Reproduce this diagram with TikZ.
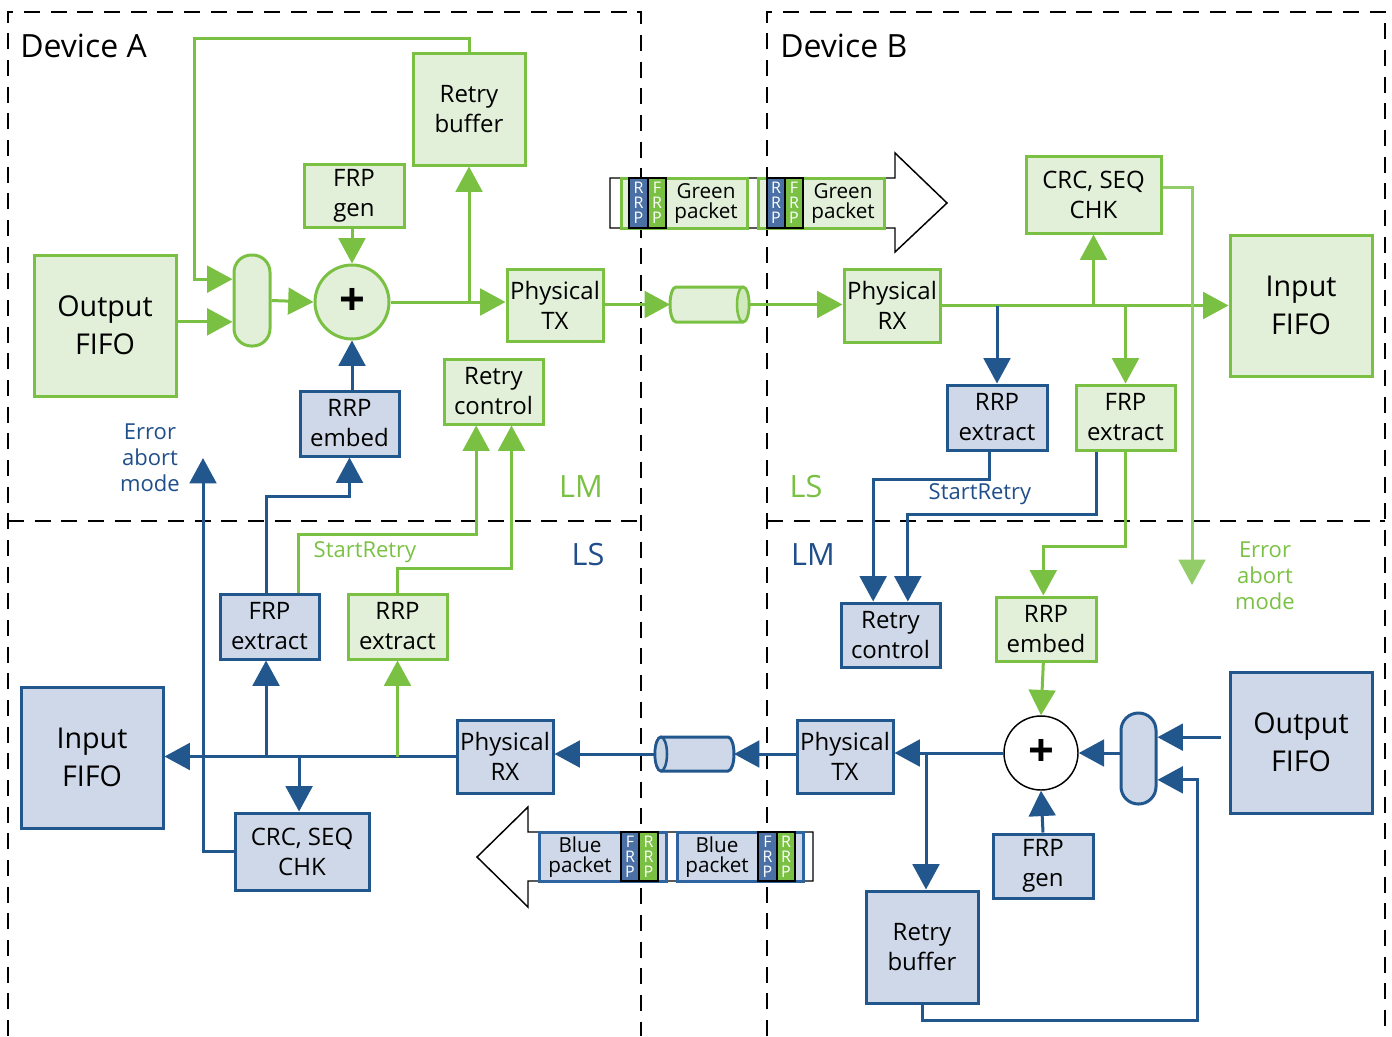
\documentclass[tikz,border=0pt]{standalone}
\usepackage{fontspec}
\setmainfont{Open Sans}
\usetikzlibrary{arrows.meta,calc}
\definecolor{gline}{HTML}{7AC143}
\definecolor{gfill}{HTML}{E2EFD9}
\definecolor{bline}{HTML}{22578E}
\definecolor{bfill}{HTML}{CFD8E8}
\definecolor{btext}{HTML}{1F4E8A}
\definecolor{gtext}{HTML}{7AC143}
\definecolor{lgline}{HTML}{92CD6A}
\definecolor{pblue}{HTML}{4A70A6}
\definecolor{pbord}{HTML}{2E64A0}
\newcommand\boxfont{\fontsize{18}{22.5}\selectfont}
\newcommand\bgfont{\fontsize{21.5}{28.5}\selectfont}
\newcommand\pktfont{\fontsize{15.5}{15}\selectfont}
\newcommand\rpfont{\fontsize{12}{11.3}\selectfont}
\newcommand\lblfont{\fontsize{16.5}{19.5}\selectfont}
\newcommand\devfont{\fontsize{24}{28}\selectfont}
\newcommand\lmfont{\fontsize{23}{28}\selectfont}
\newcommand\plusfont{\fontsize{34}{34}\selectfont\bfseries}
\newcommand\bx[7]{\node[#1, minimum width={(#5-#3)*0.75pt}, minimum height={(#6-#4)*0.75pt}] (#2) at ({(#3+#5)/2},{(#4+#6)/2}) {#7};}
\begin{document}
\begin{tikzpicture}[x=0.75pt,y=-0.75pt,
  box/.style={rectangle, inner sep=0pt, line width=2.25pt, align=center, font=\boxfont},
  gbox/.style={box, draw=gline, fill=gfill},
  bbox/.style={box, draw=bline, fill=bfill},
  big/.style={font=\bgfont},
  conn/.style={line width=2.25pt},
  tipstyle/.style={-{Triangle[length=19pt,width=20pt]}},
  garrow/.style={conn, draw=gline, tipstyle},
  barrow/.style={conn, draw=bline, tipstyle},
  larrow/.style={conn, draw=lgline, tipstyle},
  dl/.style={line width=1.9pt, dash pattern=on 12pt off 8pt},
  col/.style={rectangle, inner sep=0pt, draw=black, line width=1.1pt, text=white, font=\rpfont, align=center},
  pkt/.style={font=\pktfont, align=center, inner sep=0pt},
  lbl/.style={font=\lblfont, align=center, inner sep=0pt},
  hole/.style={rectangle, inner sep=0pt, outer sep=0pt}
]
\useasboundingbox (0,0) rectangle (1392,1036);
% dashed frames
\draw[dl] (8,1036) -- (8,12) -- (641,12) -- (641,1036);
\draw[dl] (767,1036) -- (767,12) -- (1385,12) -- (1385,1036);
\draw[dl] (8,521) -- (641,521);
\draw[dl] (767,521) -- (1385,521);
\node[anchor=west, font=\devfont, inner sep=0pt] (devA) at (20,46) {Device A};
\node[anchor=west, font=\devfont, inner sep=0pt] (devB) at (780,46) {Device B};

% ---------- top (Device A -> Device B), green ----------
\bx{gbox,big}{OFA}{34}{255}{176}{396}{Output\\FIFO}
\bx{gbox,rounded corners=13pt}{muxA}{234}{255}{270}{346}{}
\node[circle, draw=gline, fill=gfill, line width=2.25pt, minimum size=55.5pt, inner sep=0pt, font=\plusfont] (plusA) at (352,302) {+};
\bx{gbox}{FGA}{304}{164}{404}{227}{FRP\\gen}
\bx{bbox}{REA}{300}{391}{399}{456}{RRP\\embed}
\bx{gbox}{RBA}{413}{53}{525}{165}{Retry\\buffer}
\bx{gbox}{TXA}{507}{269}{603}{341}{Physical\\TX}
\bx{gbox}{RCA}{444}{359}{543}{424}{Retry\\control}
\bx{hole}{cylA}{670}{287}{749}{322}{}
\draw[gline, line width=2.25pt, fill=gfill] (676,287) -- (743,287) arc[start angle=90, end angle=-90, x radius=4.5pt, y radius=13.125pt] -- (676,322) arc[start angle=270, end angle=90, x radius=4.5pt, y radius=13.125pt] -- cycle;
\draw[gline, line width=1.9pt, fill=gline!35] (743,304.5) ellipse [x radius=4.5pt, y radius=13.125pt];
\bx{gbox}{RXB}{844}{269}{940}{342}{Physical\\RX}
\bx{gbox,big}{IFB}{1230}{235}{1372}{376}{Input\\FIFO}
\bx{gbox}{CRCB}{1026}{156}{1161}{233}{CRC, SEQ\\CHK}
\bx{bbox}{RRPXB}{947}{385}{1047}{450}{RRP\\extract}
\bx{gbox}{FRPXB}{1076}{385}{1175}{450}{FRP\\extract}
\bx{bbox}{RCB}{841}{603}{940}{667}{Retry\\control}
\bx{gbox}{REB}{996}{597}{1096}{661}{RRP\\embed}

% ---------- bottom (Device B -> Device A), blue ----------
\node[circle, draw=black, fill=white, line width=1.1pt, minimum size=55.5pt, inner sep=0pt, font=\plusfont] (plusB) at (1041,753) {+};
\bx{bbox,rounded corners=13pt}{muxB}{1121}{713}{1156}{804}{}
\bx{bbox,big}{OFB}{1230}{672}{1372}{813}{Output\\FIFO}
\bx{bbox}{FGB}{993}{834}{1093}{898}{FRP\\gen}
\bx{bbox}{TXB}{797}{720}{893}{793}{Physical\\TX}
\bx{bbox}{RBB}{866}{891}{978}{1003}{Retry\\buffer}
\bx{hole}{cylB}{655}{737}{734}{771}{}
\draw[bline, line width=2.25pt, fill=bfill] (661,737) -- (728,737) arc[start angle=90, end angle=-90, x radius=4.5pt, y radius=12.75pt] -- (661,771) arc[start angle=270, end angle=90, x radius=4.5pt, y radius=12.75pt] -- cycle;
\draw[bline, line width=1.9pt, fill=bline!25] (661,754) ellipse [x radius=4.5pt, y radius=12.75pt];
\bx{bbox}{RXA}{457}{720}{553}{793}{Physical\\RX}
\bx{bbox,big}{IFA}{21}{687}{163}{828}{Input\\FIFO}
\bx{gbox}{RRPXA}{348}{594}{447}{659}{RRP\\extract}
\bx{bbox}{FRPXA}{220}{594}{319}{659}{FRP\\extract}
\bx{bbox}{CRCA}{235}{813}{369}{890}{CRC, SEQ\\CHK}

% ---------- packets ----------
\draw[line width=1.1pt, fill=white] (610,178) -- (895,178) -- (895,153) -- (947,203) -- (895,252) -- (895,228) -- (610,228) -- cycle;
\bx{rectangle,inner sep=0pt,draw=gline,fill=gfill,line width=2.25pt}{gp1}{621}{178}{747}{228}{}
\bx{col,fill=pblue}{gp1r}{629}{178}{648}{228}{R\\R\\P}
\bx{col,fill=gline}{gp1f}{648}{178}{666}{228}{F\\R\\P}
\node[pkt] (gp1t) at (706,203) {Green\\packet};
\bx{rectangle,inner sep=0pt,draw=gline,fill=gfill,line width=2.25pt}{gp2}{758}{178}{884}{228}{}
\bx{col,fill=pblue}{gp2r}{767}{178}{785}{228}{R\\R\\P}
\bx{col,fill=gline}{gp2f}{785}{178}{803}{228}{F\\R\\P}
\node[pkt] (gp2t) at (843,203) {Green\\packet};

\draw[line width=1.1pt, fill=white] (813,832) -- (528,832) -- (528,807) -- (477,857) -- (528,907) -- (528,881) -- (813,881) -- cycle;
\bx{rectangle,inner sep=0pt,draw=pbord,fill=bfill,line width=2.25pt}{bp1}{539}{832}{666}{881}{}
\bx{col,fill=pblue}{bp1f}{621}{832}{639}{881}{F\\R\\P}
\bx{col,fill=gline}{bp1r}{639}{832}{658}{881}{R\\R\\P}
\node[pkt] (bp1t) at (580,857) {Blue\\packet};
\bx{rectangle,inner sep=0pt,draw=pbord,fill=bfill,line width=2.25pt}{bp2}{677}{832}{803}{881}{}
\bx{col,fill=pblue}{bp2f}{758}{832}{777}{881}{F\\R\\P}
\bx{col,fill=gline}{bp2r}{777}{832}{795}{881}{R\\R\\P}
\node[pkt] (bp2t) at (717,857) {Blue\\packet};

% ---------- connectors top ----------
\coordinate (mA1) at ([yshift=-16pt]muxA.west);
\coordinate (mA2) at ([yshift=16pt]muxA.west);
\coordinate (loopA) at (194,38);
\draw[garrow] (OFA.east |- mA1) -- (mA1);
\draw[garrow] (RBA.north) |- (loopA) |- (mA2);
\draw[garrow] (muxA.east) -- (plusA.west);
\draw[garrow] (FGA.south -| plusA.north) -- (plusA.north);
\draw[barrow] (REA.north -| plusA.south) -- (plusA.south);
\draw[garrow] (plusA.east) -- (plusA.east -| TXA.west);
\draw[garrow] (RBA.south |- plusA.east) -- (RBA.south);
\draw[garrow] (TXA.east |- cylA.west) -- (cylA.west);
\draw[garrow] (cylA.east) -- (cylA.east -| RXB.west);
\draw[garrow] (RXB.east) -- (RXB.east -| IFB.west);
\draw[barrow] (RRPXB.north |- RXB.east) -- (RRPXB.north);
\draw[garrow] (CRCB.south |- RXB.east) -- (CRCB.south);
\draw[garrow] (FRPXB.north |- RXB.east) -- (FRPXB.north);
\coordinate (eabB) at (1192,585);
\draw[larrow] ([yshift=5.6pt]CRCB.east) -| (eabB);
\draw[barrow] ([xshift=-6pt]RRPXB.south) -- ++(0,28) -| ([xshift=-13pt]RCB.north);
\draw[barrow] ([xshift=-21.4pt]FRPXB.south) -- ++(0,63) -| ([xshift=13pt]RCB.north);
\draw[garrow] (FRPXB.south) -- ++(0,95) -| ([xshift=-2pt]REB.north);
\draw[garrow] ([xshift=-2pt]REB.south) -- (plusB.north);

% ---------- connectors bottom ----------
\coordinate (mB1) at ([yshift=16pt]muxB.east);
\coordinate (mB2) at ([yshift=-16pt]muxB.east);
\coordinate (loopB) at (1197,1020);
\draw[barrow] ([xshift=-6pt]OFB.west |- mB1) -- (mB1);
\draw[barrow] (RBB.south) |- (loopB) |- (mB2);
\draw[barrow] (plusB.east -| muxB.west) -- (plusB.east);
\draw[barrow] (FGB.north) -- (plusB.south);
\draw[barrow] (plusB.west) -- (plusB.west -| TXB.east);
\draw[barrow] ([xshift=3pt]RBB.north |- plusB.west) -- ([xshift=3pt]RBB.north);
\draw[barrow] (TXB.west |- cylB.east) -- (cylB.east);
\draw[barrow] (cylB.west) -- (cylB.west -| RXA.east);
\draw[barrow] (RXA.west) -- (RXA.west -| IFA.east);
\draw[garrow] (RRPXA.south |- RXA.west) -- (RRPXA.south);
\draw[barrow] ([xshift=-2.6pt]FRPXA.south |- RXA.west) -- ([xshift=-2.6pt]FRPXA.south);
\draw[barrow] ([xshift=-2.2pt]CRCA.north |- RXA.west) -- ([xshift=-2.2pt]CRCA.north);
\coordinate (eabA) at (203,458);
\draw[barrow] (CRCA.west) -| (eabA);
\draw[barrow] ([xshift=-2.6pt]FRPXA.north) -- ++(0,-96) -| (REA.south);
\draw[garrow] ([xshift=22pt]FRPXA.north) -- ++(0,-58) -| ([xshift=-13pt]RCA.south);
\draw[garrow] (RRPXA.north) -- ++(0,-24) -| ([xshift=13.5pt]RCA.south);

% ---------- labels ----------
\node[lbl, text=btext] (eamA) at (150,458) {Error\\abort\\mode};
\node[lbl, text=gtext] (eamB) at (1265,576) {Error\\abort\\mode};
\node[lbl, text=gtext] (srA) at (365,552) {StartRetry};
\node[lbl, text=btext] (srB) at (980,494) {StartRetry};
\node[font=\lmfont, text=gtext, inner sep=0pt] (lmA) at (581,487) {LM};
\node[font=\lmfont, text=gtext, inner sep=0pt] (lsB) at (806,487) {LS};
\node[font=\lmfont, text=btext, inner sep=0pt] (lsA) at (588,555) {LS};
\node[font=\lmfont, text=btext, inner sep=0pt] (lmB) at (813,555) {LM};
\end{tikzpicture}
\end{document}
